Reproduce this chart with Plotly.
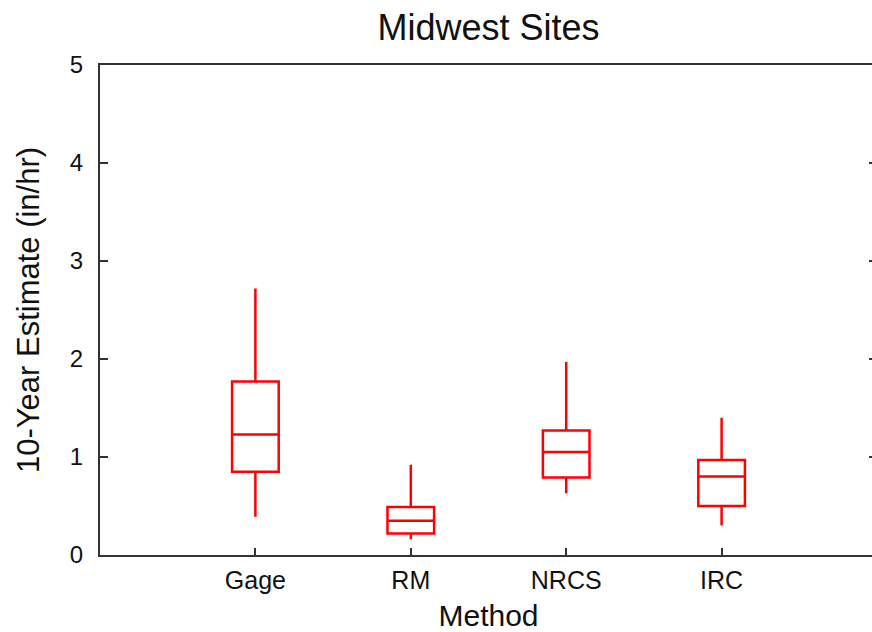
import plotly.graph_objects as go

categories = ["Gage", "RM", "NRCS", "IRC"]
upper_whisker = [2.72, 0.92, 1.97, 1.40]
q3_vals = [1.77, 0.49, 1.27, 0.97]
medians = [1.23, 0.35, 1.05, 0.80]
q1_vals = [0.85, 0.22, 0.79, 0.50]
lower_whisker = [0.39, 0.16, 0.63, 0.30]
y_ticks = [0, 1, 2, 3, 4, 5]

FONT = "Liberation Sans, Arial, sans-serif"

fig = go.Figure()
fig.add_trace(go.Box(
    x=categories,
    q1=q1_vals,
    median=medians,
    q3=q3_vals,
    lowerfence=lower_whisker,
    upperfence=upper_whisker,
    width=0.3,
    whiskerwidth=0,
    line=dict(color="#ff0000", width=2.5),
    fillcolor="rgba(0,0,0,0)",
    boxpoints=False,
    showlegend=False,
    hoverinfo="skip",
))

fig.update_layout(
    width=880, height=632,
    paper_bgcolor="white",
    plot_bgcolor="white",
    margin=dict(l=100, r=1, t=65, b=77),
    font=dict(family=FONT, color="#111111"),
    title=dict(text="Midwest Sites", x=0.5, xref="paper", xanchor="center",
               y=0.957, yanchor="middle", yref="container",
               font=dict(size=36, family=FONT, color="#111111")),
    xaxis=dict(
        type="category",
        categoryorder="array", categoryarray=categories,
        range=[-1, 4],
        showgrid=False, zeroline=False,
        showline=True, linecolor="#333333", linewidth=2, mirror=True,
        ticks="inside", ticklen=7, tickwidth=2, tickcolor="#333333",
        tickfont=dict(size=25, family=FONT, color="#111111"),
        ticklabelstandoff=2,
        title=dict(text="Method", font=dict(size=30, family=FONT, color="#111111"), standoff=14),
    ),
    yaxis=dict(
        range=[0, 5],
        tickvals=y_ticks,
        showgrid=False, zeroline=False,
        showline=True, linecolor="#333333", linewidth=2, mirror="ticks",
        ticks="inside", ticklen=8, tickwidth=2, tickcolor="#333333",
        tickfont=dict(size=24, family=FONT, color="#111111"),
        ticklabelstandoff=10,
        title=dict(text="10-Year Estimate (in/hr)", font=dict(size=31, family=FONT, color="#111111"), standoff=21),
    ),
)

page_js = (
    "document.documentElement.style.margin='0';"
    "document.documentElement.style.overflow='hidden';"
    "document.body.style.margin='0';"
    "document.body.style.overflow='hidden';"
)

fig.write_html("out.html", post_script=page_js, config={"displayModeBar": False})
